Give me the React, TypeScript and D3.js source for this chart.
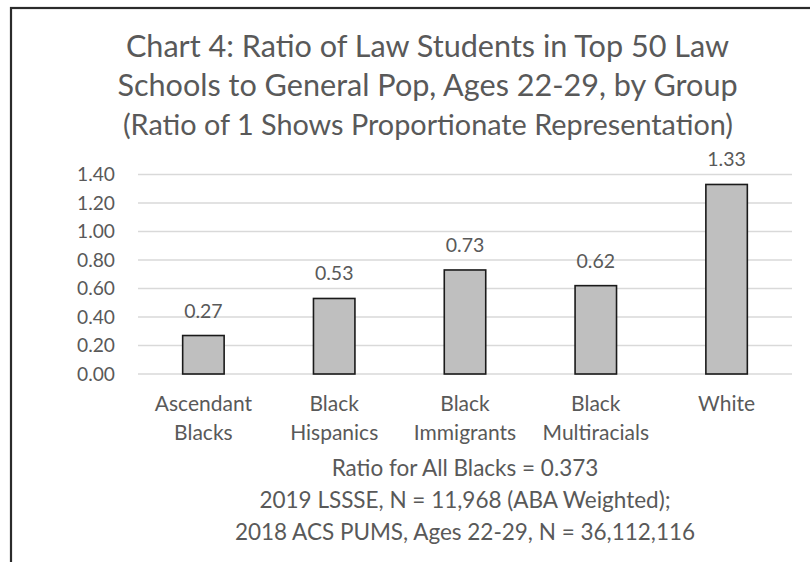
import React from "react";
import * as d3 from "d3";

const categories: string[][] = [
  ["Ascendant", "Blacks"],
  ["Black", "Hispanics"],
  ["Black", "Immigrants"],
  ["Black", "Multiracials"],
  ["White"],
];
const values: number[] = [0.27, 0.53, 0.73, 0.62, 1.33];
const yTicks: number[] = [0, 0.2, 0.4, 0.6, 0.8, 1.0, 1.2, 1.4];
const titleLines: string[] = [
  "Chart 4: Ratio of Law Students in Top 50 Law",
  "Schools to General Pop, Ages 22-29, by Group",
];
const subtitle = "(Ratio of 1 Shows Proportionate Representation)";
const footerLines: string[] = [
  "Ratio for All Blacks = 0.373",
  "2019 LSSSE, N = 11,968 (ABA Weighted);",
  "2018 ACS PUMS, Ages 22-29, N = 36,112,116",
];

const W = 810;
const H = 562;
const FONT = "Lato, 'Open Sans', sans-serif";
const TEXT = "#595959";

export default function App() {
  const left = 138;
  const right = 792;
  const top = 174.5;
  const bottom = 374;
  const x = d3
    .scaleBand<number>()
    .domain(values.map((_, i) => i))
    .range([left, right])
    .paddingInner(0.683)
    .paddingOuter(0.3415);
  const y = d3.scaleLinear().domain([0, 1.4]).range([bottom, top]);
  const cx = (i: number) => (x(i) as number) + x.bandwidth() / 2;
  const midPlot = (left + right) / 2;

  return (
    <svg
      width={W}
      height={H}
      style={{ position: "absolute", left: 0, top: 0, background: "#fff" }}
      fontFamily={FONT}
    >
      <rect x={0} y={0} width={W} height={H} fill="#fff" />
      <rect x={11} y={8} width={900} height={700} fill="none" stroke="#2b2b2b" strokeWidth={2.2} />

      {titleLines.map((t, i) => (
        <text key={i} x={427.5} y={57 + i * 39} textAnchor="middle" fontSize={30.6} fill={TEXT}>
          {t}
        </text>
      ))}
      <text x={428} y={135} textAnchor="middle" fontSize={28.8} fill={TEXT}>
        {subtitle}
      </text>

      {yTicks.map((t) => (
        <g key={t}>
          <line x1={left} x2={right} y1={y(t)} y2={y(t)} stroke="#d9d9d9" strokeWidth={1.5} />
          <text x={115} y={y(t)} dy="0.35em" textAnchor="end" fontSize={19.2} fill={TEXT}>
            {d3.format(".2f")(t)}
          </text>
        </g>
      ))}

      {values.map((v, i) => (
        <g key={i}>
          <rect
            x={x(i)}
            y={y(v)}
            width={x.bandwidth()}
            height={y(0) - y(v)}
            fill="#bfbfbf"
            stroke="#1a1a1a"
            strokeWidth={1.6}
          />
          <text x={cx(i)} y={y(v) - 18} textAnchor="middle" fontSize={19.5} fill={TEXT}>
            {d3.format(".2f")(v)}
          </text>
          {categories[i].map((c, j) => (
            <text key={j} x={cx(i)} y={411 + j * 29} textAnchor="middle" fontSize={21} fill={TEXT}>
              {c}
            </text>
          ))}
        </g>
      ))}

      {footerLines.map((t, i) => (
        <text key={i} x={midPlot} y={476 + i * 32} textAnchor="middle" fontSize={22.5} fill={TEXT}>
          {t}
        </text>
      ))}
    </svg>
  );
}
